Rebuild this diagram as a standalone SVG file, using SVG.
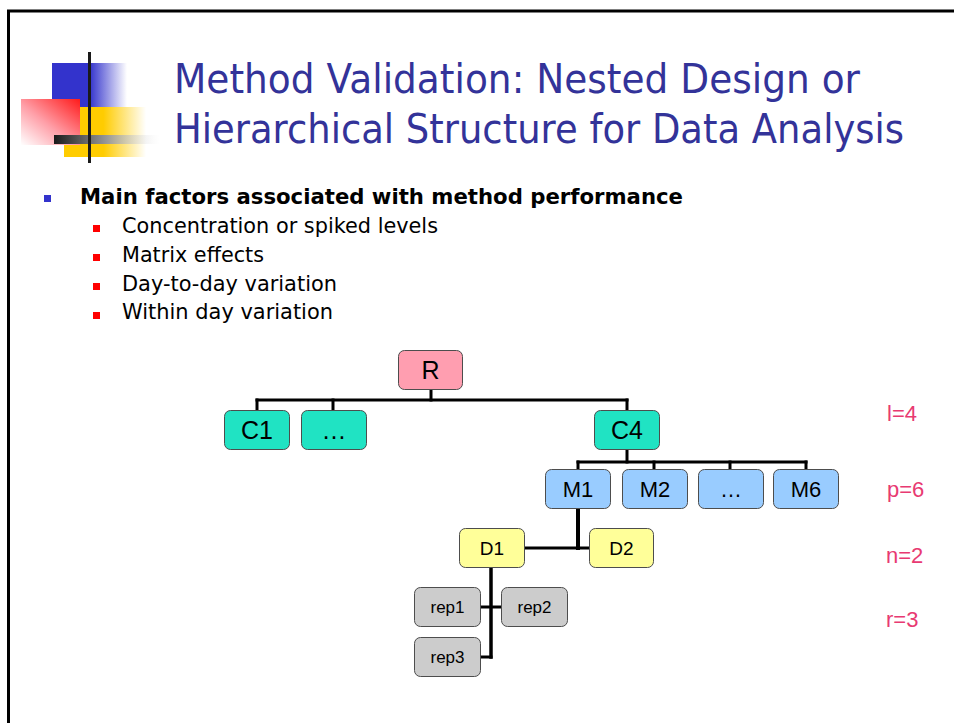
<svg xmlns="http://www.w3.org/2000/svg" width="954" height="723" viewBox="0 0 954 723">
<defs>
<linearGradient id="gBlue" x1="0" y1="0" x2="1" y2="0"><stop offset="0" stop-color="#3333CC"/><stop offset="0.5" stop-color="#3333CC"/><stop offset="1" stop-color="#3333CC" stop-opacity="0"/></linearGradient>
<linearGradient id="gYel" x1="0" y1="0" x2="1" y2="0"><stop offset="0" stop-color="#FFCC00"/><stop offset="0.48" stop-color="#FFCC00"/><stop offset="1" stop-color="#FFCC00" stop-opacity="0"/></linearGradient>
<linearGradient id="gRed" x1="1" y1="0" x2="0" y2="1"><stop offset="0" stop-color="#FF1A1A"/><stop offset="0.55" stop-color="#FF9FA8"/><stop offset="1" stop-color="#FFFFFF"/></linearGradient>
<linearGradient id="gBar" x1="0" y1="0" x2="1" y2="0"><stop offset="0" stop-color="#1A1A1A"/><stop offset="0.5" stop-color="#999999"/><stop offset="1" stop-color="#FFFFFF" stop-opacity="0.2"/></linearGradient>
</defs>
<style>
.title{font-family:"DejaVu Sans","Liberation Sans",sans-serif;font-size:41px;fill:#333399}
.b1{font-family:"DejaVu Sans","Liberation Sans",sans-serif;font-size:21px;font-weight:bold;fill:#000}
.b2{font-family:"DejaVu Sans","Liberation Sans",sans-serif;font-size:22px;fill:#000}
.node rect{stroke:#4D4D4D;stroke-width:1}
.node text{font-family:"Liberation Sans",Arial,sans-serif;fill:#000;text-anchor:middle}
.lbl{font-family:"Liberation Sans",Arial,sans-serif;font-size:22px;fill:#E83A72}
#connectors line{stroke:#000;stroke-width:3;stroke-linecap:square}
</style>
<rect width="954" height="723" fill="#FFFFFF"/>
<path d="M8.5 740 V11 H970" fill="none" stroke="#000" stroke-width="3"/>
<g id="logo">
<rect x="52" y="63" width="75" height="44" fill="url(#gBlue)"/>
<rect x="64" y="107" width="82" height="50" fill="url(#gYel)"/>
<rect x="21" y="99" width="59" height="46" fill="url(#gRed)"/>
<rect x="54" y="135" width="106" height="9" fill="url(#gBar)"/>
<rect x="88" y="52" width="3" height="111" fill="#1A1A1A"/>
</g>
<text class="title" x="174" y="93" textLength="686" lengthAdjust="spacingAndGlyphs">Method Validation: Nested Design or</text>
<text class="title" x="174" y="143" textLength="730" lengthAdjust="spacingAndGlyphs">Hierarchical Structure for Data Analysis</text>
<rect x="44" y="195" width="7" height="7" fill="#3333CC"/>
<text class="b1" x="80" y="204" textLength="603" lengthAdjust="spacingAndGlyphs">Main factors associated with method performance</text>
<rect x="93" y="225" width="7" height="7" fill="#FF0000"/>
<rect x="93" y="254" width="7" height="7" fill="#FF0000"/>
<rect x="93" y="283" width="7" height="7" fill="#FF0000"/>
<rect x="93" y="312" width="7" height="7" fill="#FF0000"/>
<text class="b2" x="122" y="233" textLength="316" lengthAdjust="spacingAndGlyphs">Concentration or spiked levels</text>
<text class="b2" x="122" y="262" textLength="142" lengthAdjust="spacingAndGlyphs">Matrix effects</text>
<text class="b2" x="122" y="291" textLength="215" lengthAdjust="spacingAndGlyphs">Day-to-day variation</text>
<text class="b2" x="122" y="319" textLength="211" lengthAdjust="spacingAndGlyphs">Within day variation</text>
<g id="connectors">
<line x1="431" y1="390" x2="431" y2="400"/>
<line x1="257" y1="400" x2="627" y2="400"/>
<line x1="257" y1="400" x2="257" y2="409"/>
<line x1="333" y1="400" x2="333" y2="409"/>
<line x1="627" y1="400" x2="627" y2="409"/>
<line x1="627" y1="450" x2="627" y2="462"/>
<line x1="578" y1="462" x2="806" y2="462"/>
<line x1="578" y1="462" x2="578" y2="468"/>
<line x1="654" y1="462" x2="654" y2="468"/>
<line x1="730" y1="462" x2="730" y2="468"/>
<line x1="806" y1="462" x2="806" y2="468"/>
<line x1="578" y1="509" x2="578" y2="548" style="stroke-width:4"/>
<line x1="525" y1="548" x2="588" y2="548"/>
<line x1="491" y1="568" x2="491" y2="657" style="stroke-width:3.5"/>
<line x1="481" y1="607" x2="500" y2="607"/>
<line x1="481" y1="657" x2="491" y2="657"/>
</g>
<g id="R" class="node"><rect x="398.5" y="350.5" width="64" height="39" rx="6" fill="#FF9EB0"/><text x="430.5" y="379" font-size="25">R</text></g>
<g id="C1" class="node"><rect x="224.5" y="410.5" width="65" height="39" rx="6" fill="#20E3C3"/><text x="257" y="439" font-size="25">C1</text></g>
<g id="Cdots" class="node"><rect x="301.5" y="410.5" width="65" height="39" rx="6" fill="#20E3C3"/><text x="334" y="439" font-size="25">…</text></g>
<g id="C4" class="node"><rect x="594.5" y="410.5" width="65" height="39" rx="6" fill="#20E3C3"/><text x="627" y="439" font-size="25">C4</text></g>
<g id="M1" class="node"><rect x="545.5" y="469.5" width="65" height="39" rx="6" fill="#99CCFF"/><text x="578" y="497" font-size="22">M1</text></g>
<g id="M2" class="node"><rect x="622.5" y="469.5" width="65" height="39" rx="6" fill="#99CCFF"/><text x="655" y="497" font-size="22">M2</text></g>
<g id="Mdots" class="node"><rect x="698.5" y="469.5" width="65" height="39" rx="6" fill="#99CCFF"/><text x="731" y="497" font-size="22">…</text></g>
<g id="M6" class="node"><rect x="773.5" y="469.5" width="65" height="39" rx="6" fill="#99CCFF"/><text x="806" y="497" font-size="22">M6</text></g>
<g id="D1" class="node"><rect x="459.5" y="528.5" width="65" height="39" rx="6" fill="#FFFF99"/><text x="492" y="555" font-size="19">D1</text></g>
<g id="D2" class="node"><rect x="589.5" y="528.5" width="64" height="39" rx="6" fill="#FFFF99"/><text x="621.5" y="555" font-size="19">D2</text></g>
<g id="rep1" class="node"><rect x="414.5" y="587.5" width="66" height="39" rx="6" fill="#CCCCCC"/><text x="447.5" y="613" font-size="17">rep1</text></g>
<g id="rep2" class="node"><rect x="501.5" y="587.5" width="66" height="39" rx="6" fill="#CCCCCC"/><text x="534.5" y="613" font-size="17">rep2</text></g>
<g id="rep3" class="node"><rect x="414.5" y="637.5" width="66" height="39" rx="6" fill="#CCCCCC"/><text x="447.5" y="663" font-size="17">rep3</text></g>
<text class="lbl" x="887" y="421">l=4</text>
<text class="lbl" x="887" y="497">p=6</text>
<text class="lbl" x="886" y="563">n=2</text>
<text class="lbl" x="886" y="627">r=3</text>
</svg>
